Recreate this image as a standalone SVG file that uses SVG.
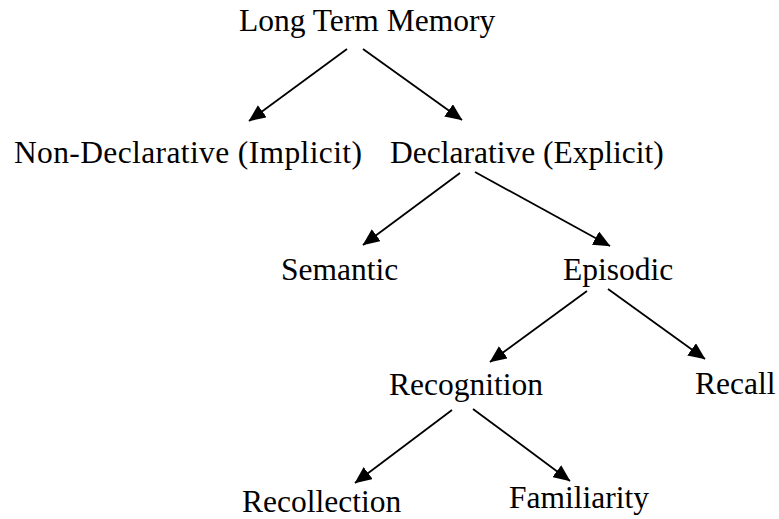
<svg xmlns="http://www.w3.org/2000/svg" width="779" height="519" viewBox="0 0 779 519">
<style>
text{font-family:"Liberation Serif","Times New Roman",serif;font-size:31.5px;fill:#000}
.c line{stroke:#000;stroke-width:1.8;marker-end:url(#ah)}
</style>
<defs>
<marker id="ah" viewBox="0 0 17 15" refX="16.5" refY="7.5" markerWidth="17" markerHeight="15" markerUnits="userSpaceOnUse" orient="auto">
<path d="M0,0 L17,7.5 L0,15 z" fill="#000"/>
</marker>
</defs>
<rect width="779" height="519" fill="#fff"/>
<g id="ltm"><text x="239" y="31">Long Term Memory</text></g>
<g id="nondecl"><text x="14" y="163" textLength="348">Non-Declarative (Implicit)</text></g>
<g id="decl"><text x="390" y="163">Declarative (Explicit)</text></g>
<g id="semantic"><text x="281" y="280">Semantic</text></g>
<g id="episodic"><text x="563" y="280">Episodic</text></g>
<g id="recognition"><text x="389" y="395">Recognition</text></g>
<g id="recall"><text x="695" y="394">Recall</text></g>
<g id="recollection"><text x="242" y="512">Recollection</text></g>
<g id="familiarity"><text x="509" y="508">Familiarity</text></g>
<g class="c" id="connectors">
<line x1="347" y1="49" x2="249" y2="121"/>
<line x1="363" y1="49" x2="462" y2="120"/>
<line x1="460" y1="173" x2="363" y2="245"/>
<line x1="475" y1="172" x2="610" y2="246"/>
<line x1="587" y1="291" x2="490" y2="362"/>
<line x1="608" y1="289" x2="705" y2="359"/>
<line x1="452" y1="410" x2="355" y2="483"/>
<line x1="473" y1="409" x2="570" y2="481"/>
</g>
</svg>
